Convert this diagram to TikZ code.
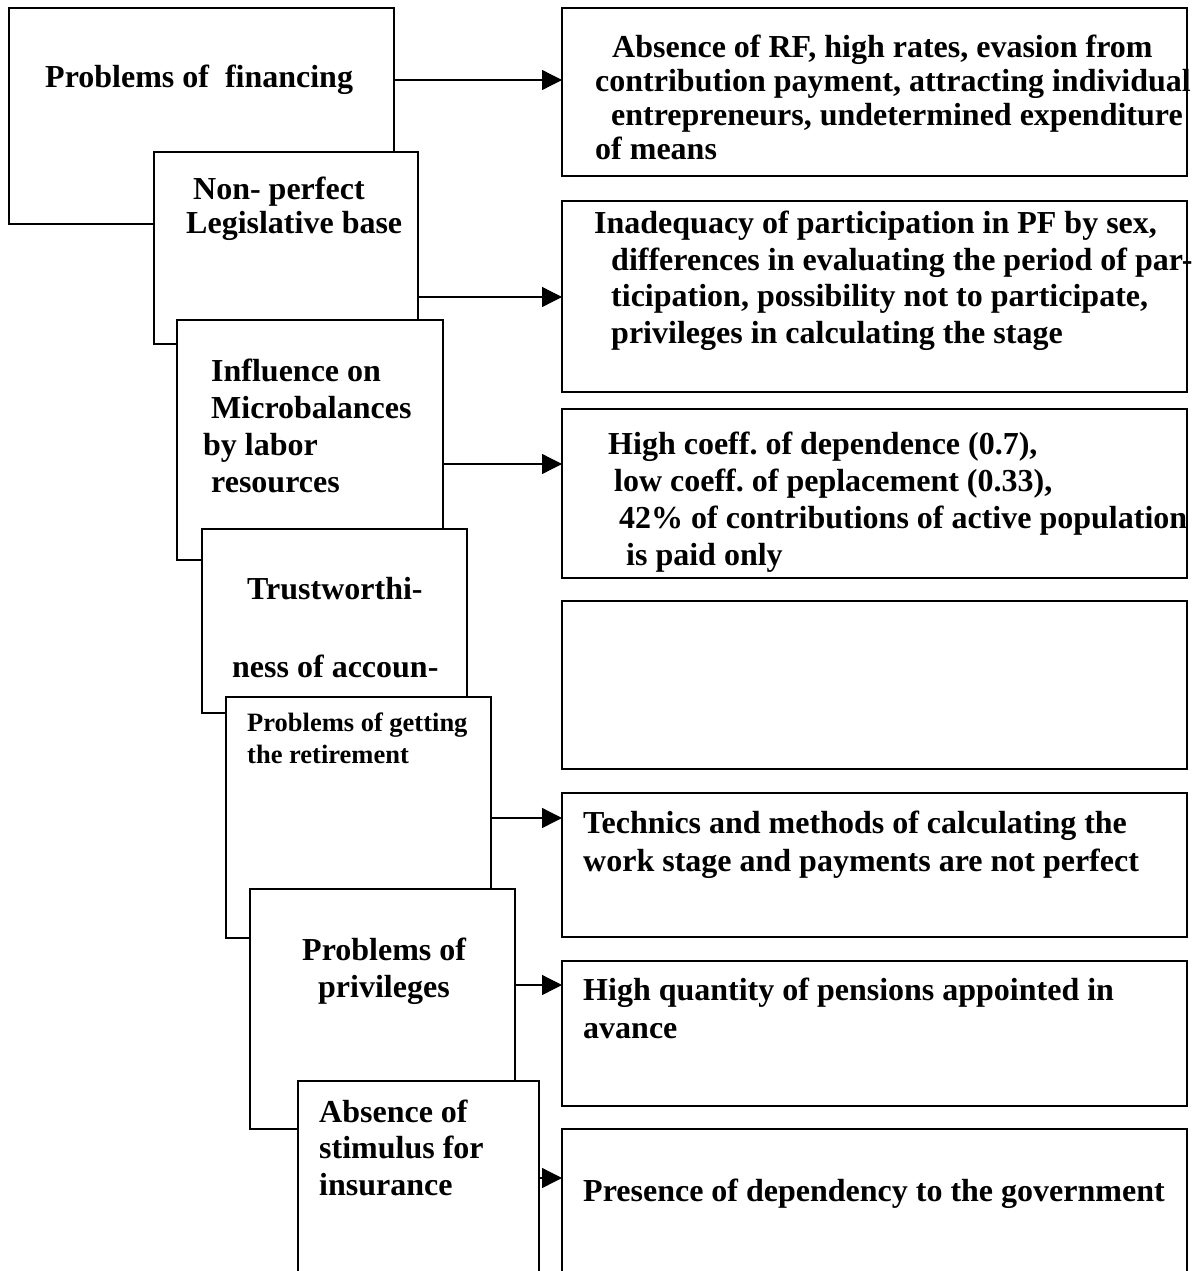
\documentclass[tikz,border=0pt]{standalone}
\usepackage{fontspec}
\setmainfont{Liberation Serif}
\usetikzlibrary{arrows.meta}
\frenchspacing
\newcommand\boxfont[2]{\fontsize{#1}{#2}\selectfont\bfseries}

\begin{document}
\begin{tikzpicture}[x=1pt,y=-1pt,
  box/.style={draw,fill=white,line width=1.6pt,inner sep=0pt,outer sep=0pt,anchor=north west},
  txt/.style={anchor=base west,align=left,inner sep=0pt},
  arr/.style={-{Triangle[length=20pt,width=20pt]},line width=1.3pt}]
\clip (0,0) rectangle (1199,1271);

% left column: problems, each card laid over the one before
% (text nodes sit on the baseline of their last line)
\node[box,minimum width=385pt,minimum height=216pt] (fin) at (9,8) {};
\node[txt,font=\boxfont{32}{35}] (fin-t) at (45,88) {Problems of \ financing};
\node[box,minimum width=264pt,minimum height=192pt] (leg) at (154,152) {};
\node[txt,font=\boxfont{32}{34}] (leg-t) at (186,233) {\hspace*{7pt}Non- perfect\\Legislative base};
\node[box,minimum width=266pt,minimum height=240pt] (mic) at (177,320) {};
\node[txt,font=\boxfont{32}{37}] (mic-t) at (203,492) {\hspace*{8pt}Influence on\\\hspace*{8pt}Microbalances\\by labor\\\hspace*{8pt}resources};
\node[box,minimum width=265pt,minimum height=184pt] (acc) at (202,529) {};
\node[txt,font=\boxfont{32}{78}] (acc-t) at (232,677) {\hspace*{15pt}Trustworthi-\\ness of accoun-};
\node[box,minimum width=265pt,minimum height=241pt] (ret) at (226,697) {};
\node[txt,font=\boxfont{26.5}{32}] (ret-t) at (247,763) {Problems of getting\\the retirement};
\node[box,minimum width=265pt,minimum height=240pt] (priv) at (250,889) {};
\node[txt,font=\boxfont{32}{37}] (priv-t) at (302,997) {Problems of\\\hspace*{16pt}privileges};
\node[box,minimum width=241pt,minimum height=230pt] (stim) at (298,1081) {};
\node[txt,font=\boxfont{32}{36.5}] (stim-t) at (319,1195) {Absence of\\stimulus for\\insurance};

% right column: what each problem shows up as
\node[box,minimum width=625pt,minimum height=168pt] (rfin) at (562,8) {};
\node[txt,font=\boxfont{32}{34}] (rfin-t) at (595,159) {\hspace*{17pt}Absence of RF, high rates, evasion from\\contribution payment, attracting individual\\\hspace*{16pt}entrepreneurs, undetermined expenditure\\of means};
\node[box,minimum width=625pt,minimum height=191pt] (rleg) at (562,201) {};
\node[txt,font=\boxfont{32}{36.5}] (rleg-t) at (594,343) {Inadequacy of participation in PF by sex,\\\hspace*{17pt}differences in evaluating the period of par-\\\hspace*{17pt}ticipation, possibility not to participate,\\\hspace*{17pt}privileges in calculating the stage};
\node[box,minimum width=625pt,minimum height=169pt] (rmic) at (562,409) {};
\node[txt,font=\boxfont{32}{36.7}] (rmic-t) at (608,565) {High coeff. of dependence (0.7),\\\hspace*{6pt}low coeff. of peplacement (0.33),\\\hspace*{11pt}42\% of contributions of active population\\\hspace*{18pt}is paid only};
\node[box,minimum width=625pt,minimum height=168pt] (racc) at (562,601) {};
\node[box,minimum width=625pt,minimum height=144pt] (rret) at (562,793) {};
\node[txt,font=\boxfont{32}{38}] (rret-t) at (583,871) {Technics and methods of calculating the\\work stage and payments are not perfect};
\node[box,minimum width=625pt,minimum height=145pt] (rpriv) at (562,961) {};
\node[txt,font=\boxfont{32}{38}] (rpriv-t) at (583,1038) {High quantity of pensions appointed in\\avance};
\node[box,minimum width=625pt,minimum height=200pt] (rstim) at (562,1129) {};
\node[txt,font=\boxfont{32}{38}] (rstim-t) at (583,1201) {Presence of dependency to the government};

\draw[arr] (fin.east |- 0,80) -- (rfin.west |- 0,80);
\draw[arr] (leg.east |- 0,297) -- (rleg.west |- 0,297);
\draw[arr] (mic.east |- 0,464) -- (rmic.west |- 0,464);
\draw[arr] (ret.east |- 0,818) -- (rret.west |- 0,818);
\draw[arr] (priv.east |- 0,985) -- (rpriv.west |- 0,985);
\draw[arr] (stim.east |- 0,1178) -- (rstim.west |- 0,1178);
\end{tikzpicture}
\end{document}
